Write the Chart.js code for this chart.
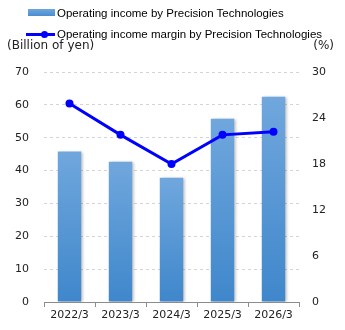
<!DOCTYPE html>
<html>
<head>
<meta charset="utf-8">
<script src="https://cdn.jsdelivr.net/npm/chart.js@4.4.1/dist/chart.umd.min.js"></script>
<style>
  html, body { margin: 0; padding: 0; background: #fff; }
  #wrap { position: relative; width: 345px; height: 330px; }
  #chart { position: absolute; left: 0; top: 0; }
  .leg { position: absolute; left: 26px; height: 16px; font: 11.5px "Liberation Sans", Arial, sans-serif; color: #000; white-space: nowrap; }
  .leg span { position: absolute; left: 31px; top: 0; line-height: 16px; }
  .box { position: absolute; left: 2px; top: 4px; width: 27px; height: 7px; background: linear-gradient(#6fa6dc, #4a8ed0); }
  .ln { position: absolute; left: 0; top: 7px; width: 29px; height: 3px; background: #0000ff; }
  .dot { position: absolute; left: 15px; top: 5px; width: 7px; height: 7px; border-radius: 50%; background: #0000ff; }
  .axt { position: absolute; top: 38px; font: 12px "DejaVu Sans", Verdana, sans-serif; color: #222; }
</style>
</head>
<body>
<div id="wrap">
  <canvas id="chart" width="345" height="330"></canvas>
  <div class="leg" style="top:5px"><div class="box"></div><span>Operating income by Precision Technologies</span></div>
  <div class="leg" style="top:26px"><div class="ln"></div><div class="dot"></div><span>Operating income margin by Precision Technologies</span></div>
  <div class="axt" style="left:7px">(Billion of yen)</div>
  <div class="axt" style="right:11px">(%)</div>
</div>
<script>
// Data
const years = ["2022/3", "2023/3", "2024/3", "2025/3", "2026/3"];
const operatingIncome = [45.8, 42.7, 37.8, 55.8, 62.5];   // billion yen
const operatingMargin = [25.9, 21.8, 18.0, 21.8, 22.2];   // %

// bar gradient: light at the top of each bar, darker at the base
function barGradient(context) {
  const chart = context.chart;
  const yScale = chart.scales.y;
  if (!yScale || !context.parsed) return "#5b9bd5";
  const top = yScale.getPixelForValue(context.parsed.y);
  const bottom = yScale.getPixelForValue(0);
  if (!isFinite(top) || !isFinite(bottom) || top === bottom) return "#5b9bd5";
  const g = chart.ctx.createLinearGradient(0, top, 0, bottom);
  g.addColorStop(0, "#70a7dd");
  g.addColorStop(1, "#3f87cb");
  return g;
}

// soft shadow on the bars
const barShadow = {
  id: "barShadow",
  beforeDatasetDraw(chart, args) {
    if (args.index !== 1) return;
    const ctx = chart.ctx;
    ctx.save();
    ctx.shadowColor = "rgba(0,0,0,0.28)";
    ctx.shadowBlur = 3;
    ctx.shadowOffsetX = 2;
    ctx.shadowOffsetY = 0;
  },
  afterDatasetDraw(chart, args) {
    if (args.index !== 1) return;
    chart.ctx.restore();
  },
};

const ctx = document.getElementById("chart").getContext("2d");
new Chart(ctx, {
  data: {
    labels: years,
    datasets: [
      {
        type: "line",
        label: "Operating income margin by Precision Technologies",
        data: operatingMargin,
        yAxisID: "y2",
        borderColor: "#0000ff",
        backgroundColor: "#0000ff",
        borderWidth: 3,
        pointRadius: 4,
        pointBackgroundColor: "#0000ff",
        pointBorderWidth: 0,
        tension: 0,
        order: 0,
      },
      {
        type: "bar",
        label: "Operating income by Precision Technologies",
        data: operatingIncome,
        yAxisID: "y",
        backgroundColor: barGradient,
        barPercentage: 0.46,
        categoryPercentage: 1,
        order: 1,
      },
    ],
  },
  options: {
    responsive: false,
    animation: false,
    layout: { padding: { top: 72, left: 0, right: 0, bottom: 0 } },
    plugins: {
      legend: { display: false },
      tooltip: { enabled: false },
    },
    scales: {
      x: {
        offset: true,
        afterFit: (s) => { s.height = 28; },
        grid: {
          offset: true,
          drawOnChartArea: false,
          tickLength: 5,
          color: "#8c8c8c",
        },
        border: { color: "#8c8c8c", width: 1 },
        ticks: {
          padding: 2,
          color: "#222",
          font: { family: "DejaVu Sans", size: 11 },
        },
      },
      y: {
        position: "left",
        min: 0,
        max: 70,
        afterFit: (s) => { s.width = 44; },
        ticks: {
          stepSize: 10,
          padding: 15,
          color: "#222",
          font: { family: "DejaVu Sans", size: 11 },
        },
        grid: {
          drawTicks: false,
          color: (c) => (c.tick && c.tick.value === 0 ? "rgba(0,0,0,0)" : "#d4d4d4"),
        },
        border: { display: false, dash: [3, 3] },
      },
      y2: {
        position: "right",
        min: 0,
        max: 30,
        afterFit: (s) => { s.width = 46; },
        ticks: {
          stepSize: 6,
          padding: 13,
          color: "#222",
          font: { family: "DejaVu Sans", size: 11 },
        },
        grid: { display: false, drawTicks: false },
        border: { display: false },
      },
    },
  },
  plugins: [barShadow],
});
</script>
</body>
</html>
